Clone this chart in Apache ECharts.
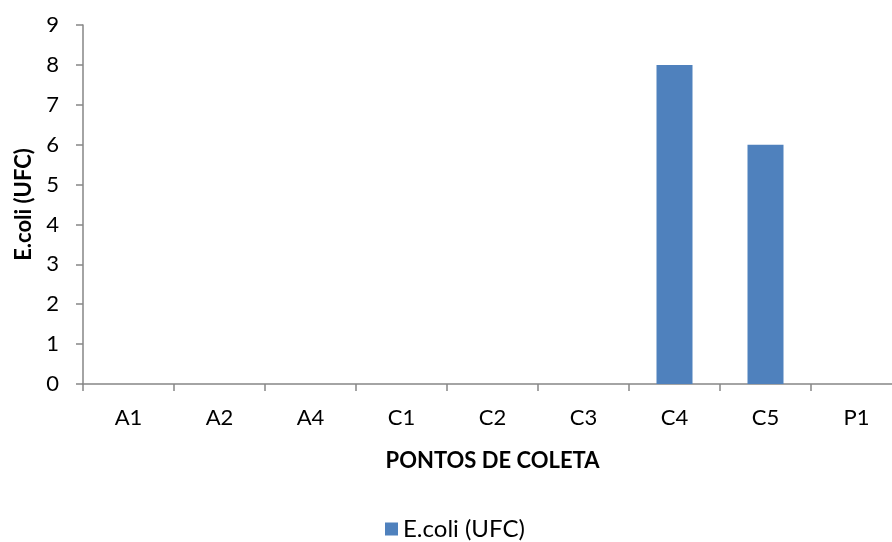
<!DOCTYPE html>
<html>
<head>
<meta charset="utf-8">
<script src="https://cdn.jsdelivr.net/npm/echarts@6/dist/echarts.min.js"></script>
<style>
  html, body { margin: 0; padding: 0; background: #fff; }
  #chart { width: 892px; height: 542px; }
</style>
</head>
<body>
<div id="chart"></div>
<script>
const pontos = ['A1', 'A2', 'A4', 'C1', 'C2', 'C3', 'C4', 'C5', 'P1']
const ecoli = [0, 0, 0, 0, 0, 0, 8, 6, 0]
const serieNome = 'E.coli (UFC)'

const AXIS = '#868686'
const BAR = '#4F81BD'
const FONT = 'Lato, "Open Sans", sans-serif'

const chart = echarts.init(document.getElementById('chart'), null, { renderer: 'canvas' })
chart.setOption({
  animation: false,
  backgroundColor: '#fff',
  textStyle: { fontFamily: FONT, color: '#000' },
  // the plot runs a little past the right edge in the original
  grid: { left: 83, top: 25, width: 819, height: 359, containLabel: false, outerBoundsMode: 'none' },
  legend: {
    bottom: 1, left: 385, padding: 0,
    itemWidth: 13, itemHeight: 13, itemGap: 7,
    icon: 'rect',
    textStyle: { fontFamily: FONT, fontSize: 24, color: '#000' },
    data: [serieNome],
  },
  xAxis: {
    type: 'category',
    data: pontos,
    name: 'PONTOS DE COLETA',
    nameLocation: 'middle',
    nameGap: 66,
    nameTextStyle: { fontFamily: FONT, fontSize: 22, fontWeight: 'bold', color: '#000' },
    axisLine: { lineStyle: { color: AXIS, width: 1.5 } },
    axisTick: { show: true, length: 7, lineStyle: { color: AXIS, width: 1.5 } },
    axisLabel: { fontFamily: FONT, fontSize: 22, color: '#000', margin: 23 },
  },
  yAxis: {
    type: 'value',
    min: 0, max: 9, interval: 1,
    name: 'E.coli (UFC)',
    nameLocation: 'middle',
    nameGap: 48,
    nameRotate: 90,
    nameTextStyle: { fontFamily: FONT, fontSize: 22, fontWeight: 'bold', color: '#000' },
    axisLine: { show: true, lineStyle: { color: AXIS, width: 1.5 } },
    axisTick: { show: true, length: 7, lineStyle: { color: AXIS, width: 1.5 } },
    axisLabel: { fontFamily: FONT, fontSize: 22, color: '#000', margin: 24 },
    splitLine: { show: false },
  },
  series: [{
    name: serieNome,
    type: 'bar',
    data: ecoli,
    barWidth: 36,
    itemStyle: { color: BAR },
  }],
})
</script>
</body>
</html>
